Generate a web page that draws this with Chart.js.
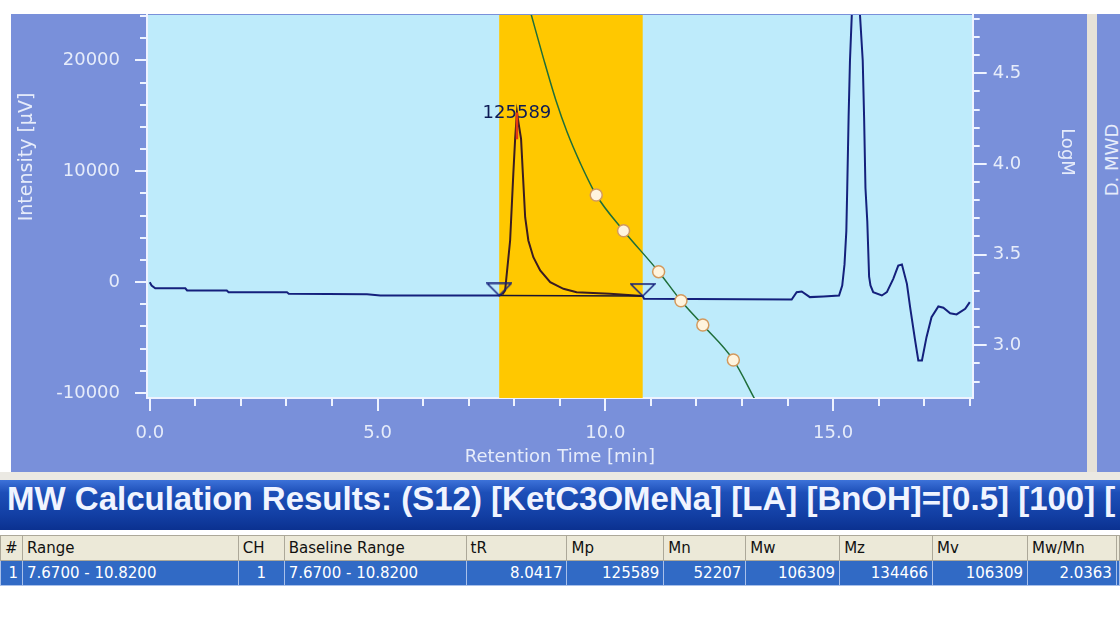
<!DOCTYPE html>
<html>
<head>
<meta charset="utf-8">
<script src="https://cdn.jsdelivr.net/npm/chart.js@4.4.1/dist/chart.umd.min.js"></script>
<style>
  html, body { margin: 0; padding: 0; background: #fff; width: 1120px; height: 617px; overflow: hidden; }
  #panel { position: absolute; left: 11px; top: 14px; width: 1076px; height: 458px; background: #7990da; }
  #sep { position: absolute; left: 1087px; top: 14px; width: 10px; height: 458px; background: #e6e2d8; }
  #panel2 { position: absolute; left: 1097px; top: 14px; width: 23px; height: 458px; background: #7990da; overflow: hidden; }
  .vtitle { position: absolute; width: 160px; height: 22px; line-height: 22px; text-align: center;
            font: 18px "DejaVu Sans", sans-serif; color: #e6ecfa; white-space: nowrap; }
  #ytitle { left: -55px; top: 146px; transform: rotate(-90deg); font-size: 19px; }
  #y2title { left: 988px; top: 141px; transform: rotate(90deg); }
  #mwd { left: -65px; top: 135px; transform: rotate(-90deg); }
  #chart { position: absolute; left: 0; top: 0; }
  #strip { position: absolute; left: 0; top: 472px; width: 1120px; height: 8px; background: #ebe9e3; }
  #titlebar { position: absolute; left: 0; top: 480px; width: 1120px; height: 50px; box-sizing: border-box;
              padding-left: 7px; line-height: 60px; white-space: nowrap; overflow: hidden;
              font: bold 33px "Liberation Sans", Arial, sans-serif; color: #f0f4ff;
              background: linear-gradient(#3d72d9 0%, #1d4fb8 25%, #123fa4 70%, #0b3190 100%); }
  #results { position: absolute; left: 0; top: 535px; border-collapse: collapse; table-layout: fixed;
             font: 15px "DejaVu Sans", sans-serif; }
  #results td { height: 25px; padding: 0 4px; white-space: nowrap; overflow: hidden; box-sizing: border-box; }
  #results tr.head td { background: #ece9d8; color: #111; border: 1px solid #aca899; text-align: left; }
  #results tr.row td { background: #316ac5; color: #fff; border: 1px solid #a9c0ea; text-align: right; }
  #results tr.row td.l { text-align: left; }
</style>
</head>
<body>
<div id="panel"></div>
<div id="sep"></div>
<div id="panel2"><div id="mwd" class="vtitle">D. MWD</div></div>
<canvas id="chart" width="1087" height="472"></canvas>
<div id="ytitle" class="vtitle">Intensity [µV]</div>
<div id="y2title" class="vtitle">LogM</div>
<div id="strip"></div>
<div id="titlebar">MW Calculation Results: (S12) [KetC3OMeNa] [LA] [BnOH]=[0.5] [100] [</div>
<table id="results"></table>

<script>
// chromatogram (retention time [min] / intensity [µV])
const chromT = [0.00, 0.04, 0.12, 0.78, 0.82, 1.69, 1.73, 3.01, 3.05, 4.77, 5.06, 7.67, 7.74, 7.80, 7.91,
  7.98, 8.02, 8.06, 8.10, 8.15, 8.19, 8.24, 8.31, 8.42, 8.57, 8.79, 9.08, 9.37, 10.10, 10.82, 10.85,
  14.09, 14.20, 14.31, 14.49, 14.79, 15.13, 15.20, 15.25, 15.29, 15.31, 15.34, 15.37, 15.41, 15.50,
  15.59, 15.65, 15.68, 15.71, 15.75, 15.79, 15.82, 15.88, 16.07, 16.18, 16.32, 16.43, 16.51, 16.62,
  16.69, 16.80, 16.87, 16.95, 17.05, 17.16, 17.31, 17.42, 17.57, 17.71, 17.90, 18.00];
const chromI = [0, -300, -550, -550, -750, -750, -900, -900, -1050, -1100, -1200, -1200, -1100, -750, 3760,
  9770, 12930, 15300, 14200, 12930, 9770, 5860, 3760, 2250, 1050, 0, -600, -900, -1050, -1250, -1500,
  -1560, -900, -840, -1350, -1290, -1200, -300, 1600, 4600, 8500, 14900, 20000, 24100, 40000,
  24100, 20000, 14900, 8500, 5500, 500, -300, -900, -1200, -900, 300, 1500, 1600, -150,
  -2250, -5260, -7060, -7060, -4960, -3160, -2190, -2310, -2800, -2910, -2400, -1800];

// integration range, baseline end points, peak top
const integRange = [7.67, 10.82];
const baselineI = [-1200, -1250];
const peakT = 8.06;
const peakI = [12900, 15300];
const peakLabel = '125589';

// calibration curve (logM) and calibration standards
const calT = [8.37, 8.64, 8.92, 9.16, 9.45, 9.80, 10.40, 11.17, 11.66, 12.14, 12.81, 13.29];
const calLogM = [4.827, 4.584, 4.347, 4.176, 4.005, 3.829, 3.632, 3.406, 3.246, 3.112, 2.919, 2.698];
const stdT = [9.80, 10.40, 11.17, 11.66, 12.14, 12.81];
const stdLogM = [3.829, 3.632, 3.406, 3.246, 3.112, 2.919];

// axes
const xRange = [-0.061, 18.064];
const yRange = [-10450, 24100];
const y2Range = [2.709, 4.822];
const xTicks = [0, 1, 2, 3, 4, 5, 6, 7, 8, 9, 10, 11, 12, 13, 14, 15, 16, 17, 18];
const xMajor = [0, 5, 10, 15];
const yTicks = [-10000, -8000, -6000, -4000, -2000, 0, 2000, 4000, 6000, 8000, 10000, 12000, 14000,
  16000, 18000, 20000, 22000, 24000];
const yMajor = [-10000, 0, 10000, 20000];
const y2Ticks = [2.8, 2.9, 3.0, 3.1, 3.2, 3.3, 3.4, 3.5, 3.6, 3.7, 3.8, 3.9, 4.0, 4.1, 4.2, 4.3, 4.4, 4.5, 4.6, 4.7, 4.8];
const y2Major = [3.0, 3.5, 4.0, 4.5];

// results table
const colNames = ['#', 'Range', 'CH', 'Baseline Range', 'tR', 'Mp', 'Mn', 'Mw', 'Mz', 'Mv', 'Mw/Mn', ''];
const rowValues = ['1', '7.6700 - 10.8200', '1', '7.6700 - 10.8200', '8.0417', '125589', '52207', '106309',
  '134466', '106309', '2.0363', ''];
const colWidths = [22, 216, 46, 182, 101, 97, 82, 94, 93, 95, 89, 3];

const plotBg = '#beebfb';
const bandColor = '#ffc800';
const navy = '#14207c';
const axisLine = '#eef3ff';
const tickText = '#e6ecfa';
const tickFont = { family: 'DejaVu Sans', size: 18 };

const isMaj = (list, v) => list.some(m => Math.abs(m - v) < 1e-6);

// keep the plot frame where the screenshot has it
const noPad = s => { s.paddingTop = 0; s.paddingBottom = 0; s.paddingLeft = 0; s.paddingRight = 0; };

const decor = {
  id: 'decor',
  beforeDraw(c) {
    const a = c.chartArea, ctx = c.ctx;
    ctx.save();
    ctx.fillStyle = plotBg;
    ctx.fillRect(a.left, a.top, a.right - a.left, a.bottom - a.top);
    ctx.restore();
  },
  beforeDatasetsDraw(c) {
    const a = c.chartArea, ctx = c.ctx, x = c.scales.x;
    const x0 = x.getPixelForValue(integRange[0]), x1 = x.getPixelForValue(integRange[1]);
    ctx.save();
    ctx.fillStyle = bandColor;
    ctx.fillRect(x0, a.top, x1 - x0, a.bottom - a.top);
    ctx.restore();
  },
  afterDatasetsDraw(c) {
    const ctx = c.ctx;
    const px = c.scales.x.getPixelForValue(peakT), py = c.scales.y.getPixelForValue(peakI[1]);
    ctx.save();
    ctx.font = '18px "DejaVu Sans"';
    ctx.fillStyle = '#0d1a55';
    ctx.textAlign = 'center';
    ctx.textBaseline = 'middle';
    ctx.fillText(peakLabel, px, py + 1);
    ctx.restore();
  },
  afterDraw(c) {
    const a = c.chartArea, ctx = c.ctx;
    ctx.save();
    ctx.strokeStyle = axisLine;
    ctx.lineWidth = 2;
    ctx.beginPath();
    xTicks.forEach(v => {
      const p = Math.round(c.scales.x.getPixelForValue(v));
      const len = isMaj(xMajor, v) ? 13 : 8;
      ctx.moveTo(p, a.bottom); ctx.lineTo(p, a.bottom + len);
    });
    yTicks.forEach(v => {
      const p = Math.round(c.scales.y.getPixelForValue(v));
      const len = isMaj(yMajor, v) ? 12 : 7;
      ctx.moveTo(a.left, p); ctx.lineTo(a.left - len, p);
    });
    y2Ticks.forEach(v => {
      const p = Math.round(c.scales.y2.getPixelForValue(v));
      const len = isMaj(y2Major, v) ? 14 : 7;
      ctx.moveTo(a.right, p); ctx.lineTo(a.right + len, p);
    });
    ctx.stroke();
    ctx.restore();
  }
};

// flat inverted triangle, tip at the centre of the image
function triangleMark() {
  const cv = document.createElement('canvas');
  cv.width = 26; cv.height = 26;
  const g = cv.getContext('2d');
  g.strokeStyle = navy;
  g.lineWidth = 1.5;
  g.beginPath();
  g.moveTo(1, 1); g.lineTo(25, 1); g.lineTo(13, 13); g.closePath();
  g.stroke();
  return cv;
}

const inBand = t => t >= integRange[0] && t <= integRange[1];

new Chart(document.getElementById('chart'), {
  type: 'line',
  data: {
    datasets: [
      {
        label: 'standards', yAxisID: 'y2', order: 0, showLine: false,
        data: stdT.map((t, i) => ({ x: t, y: stdLogM[i] })),
        pointRadius: 6, pointBackgroundColor: '#fff4de', pointBorderColor: '#d39a5e', pointBorderWidth: 1.5
      },
      {
        label: 'baseline marks', yAxisID: 'y', order: 1, showLine: false,
        data: integRange.map((t, i) => ({ x: t, y: baselineI[i] })),
        pointStyle: triangleMark(), pointRadius: 13
      },
      {
        label: 'peak top', yAxisID: 'y', order: 2, pointRadius: 0,
        data: peakI.map(v => ({ x: peakT, y: v })),
        borderColor: '#e83a10', borderWidth: 2.5
      },
      {
        label: 'baseline', yAxisID: 'y', order: 3, pointRadius: 0,
        data: integRange.map((t, i) => ({ x: t, y: baselineI[i] })),
        borderColor: '#1a1430', borderWidth: 1.5
      },
      {
        label: 'chromatogram', yAxisID: 'y', order: 4, pointRadius: 0,
        data: chromT.map((t, i) => ({ x: t, y: chromI[i] })),
        borderColor: navy, borderWidth: 2, clip: 0,
        segment: {
          borderColor: s => (inBand(s.p0.parsed.x) && inBand(s.p1.parsed.x) && s.p0.parsed.x > integRange[0]) ? '#3a1c22' : navy
        }
      },
      {
        label: 'calibration', yAxisID: 'y2', order: 5, pointRadius: 0,
        data: calT.map((t, i) => ({ x: t, y: calLogM[i] })),
        borderColor: '#1f6e3a', borderWidth: 1.5, cubicInterpolationMode: 'monotone', clip: 0
      }
    ]
  },
  options: {
    responsive: false,
    animation: false,
    devicePixelRatio: 1,
    layout: { padding: { top: 15, left: 0, right: 0, bottom: 0 } },
    plugins: { legend: { display: false }, tooltip: { enabled: false } },
    scales: {
      x: {
        type: 'linear', position: 'bottom', min: xRange[0], max: xRange[1],
        afterBuildTicks: s => { s.ticks = xTicks.map(v => ({ value: v })); },
        afterFit: s => { s.height = 74; noPad(s); },
        grid: { drawOnChartArea: false, drawTicks: true, tickLength: 13, tickColor: 'rgba(0,0,0,0)' },
        border: { display: true, color: axisLine, width: 2 },
        ticks: {
          autoSkip: false, maxRotation: 0, padding: 12, color: tickText, font: tickFont,
          callback: v => isMaj(xMajor, v) ? v.toFixed(1) : ''
        },
        title: { display: true, text: 'Retention Time [min]', color: tickText, font: tickFont, padding: { top: 0, bottom: 4 } }
      },
      y: {
        type: 'linear', position: 'left', min: yRange[0], max: yRange[1],
        afterBuildTicks: s => { s.ticks = yTicks.map(v => ({ value: v })); },
        afterFit: s => { s.width = 147; noPad(s); },
        grid: { drawOnChartArea: false, drawTicks: true, tickLength: 12, tickColor: 'rgba(0,0,0,0)' },
        border: { display: true, color: axisLine, width: 2 },
        ticks: {
          autoSkip: false, padding: 15, color: tickText, font: tickFont,
          callback: v => isMaj(yMajor, v) ? String(v) : ''
        }
      },
      y2: {
        type: 'linear', position: 'right', min: y2Range[0], max: y2Range[1],
        afterBuildTicks: s => { s.ticks = y2Ticks.map(v => ({ value: v })); },
        afterFit: s => { s.width = 114.3; noPad(s); },
        grid: { drawOnChartArea: false, drawTicks: true, tickLength: 14, tickColor: 'rgba(0,0,0,0)' },
        border: { display: true, color: axisLine, width: 2 },
        ticks: {
          autoSkip: false, padding: 6, color: tickText, font: tickFont,
          callback: v => isMaj(y2Major, v) ? v.toFixed(1) : ''
        }
      }
    }
  },
  plugins: [decor]
});

// results table
const table = document.getElementById('results');
const head = document.createElement('tr');
head.className = 'head';
const row = document.createElement('tr');
row.className = 'row';
colNames.forEach((name, i) => {
  const h = document.createElement('td');
  h.style.width = colWidths[i] + 'px';
  if (colWidths[i] < 10) h.style.padding = '0';
  h.textContent = name;
  head.appendChild(h);
  const d = document.createElement('td');
  if (colWidths[i] < 10) d.style.padding = '0';
  d.textContent = rowValues[i];
  if (i === 1 || i === 3) d.className = 'l';
  if (i === 2) d.style.textAlign = 'center';
  row.appendChild(d);
});
table.appendChild(head);
table.appendChild(row);
</script>
</body>
</html>
